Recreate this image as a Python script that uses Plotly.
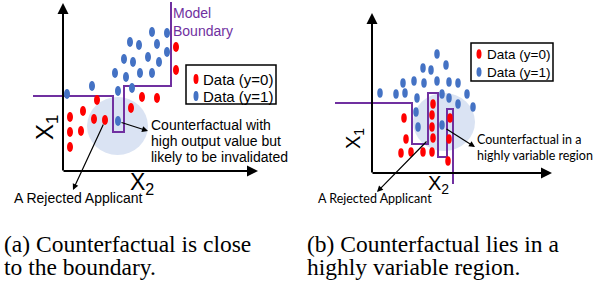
import plotly.graph_objects as go

# ---------------- Panel (a) data (figure pixel coordinates) ----------------
A_RED_X = [176, 176, 97, 142, 157, 131, 70, 83, 94, 105, 70, 81, 70]
A_RED_Y = [47, 70, 100, 97, 98, 108, 117, 111, 119, 120, 132, 131, 147]
A_BLUE_X = [152, 167, 130, 139, 157, 167, 124, 133, 148, 159, 115, 126, 140, 152, 92, 118, 132, 67]
A_BLUE_Y = [32, 33, 42, 45, 44, 52, 59, 62, 57, 62, 73, 77, 73, 73, 86, 91, 88, 94]
A_CF = (118, 121)
A_BOUND_X = [33, 113, 113, 124, 124, 171, 171]
A_BOUND_Y = [96, 96, 132, 132, 86, 86, 2]

# ---------------- Panel (b) data ----------------
B_RED_X = [433, 404, 432, 450, 432, 406, 433, 449, 401, 411, 423, 432, 448]
B_RED_Y = [104, 118, 115, 118, 127, 139, 138, 139, 153, 152, 152, 152, 161]
B_BLUE_X = [437, 423, 431, 446, 403, 414, 424, 437, 449, 458, 380, 396, 405, 417, 442, 449, 467, 458, 473, 416, 418]
B_BLUE_Y = [54, 68, 70, 65, 83, 81, 83, 81, 82, 83, 93, 94, 93, 98, 94, 98, 94, 104, 107, 112, 127]
B_CF = (442, 125)
B_BOUND_X = [335, 412, 412, 428, 428, 438, 438, 447, 447, 453, 453]
B_BOUND_Y = [103, 103, 144, 144, 93, 93, 157, 157, 109, 109, 184]

LEGEND_LABELS = ["Data (y=0)", "Data (y=1)"]
CAPTION_A = ["(a) Counterfactual is close", "to the boundary."]
CAPTION_B = ["(b) Counterfactual lies in a", "highly variable region."]
CF_TEXT_A = ["Counterfactual with", "high output value but", "likely to be invalidated"]
CF_TEXT_B = ["Counterfactual in a", "highly variable region"]

RED = "#FF0000"
BLUE = "#4472C4"
PURPLE = "#7030A0"
HALO = "#DAE3F3"
SANS = "Liberation Sans"
CAL = "Lato"
SERIF = "Liberation Serif"

fig = go.Figure()
shapes = []
annos = []


def ellipse(x, y, w, h, color, layer="above"):
    shapes.append(dict(type="circle", xref="x", yref="y", x0=x - w / 2, x1=x + w / 2,
                       y0=y - h / 2, y1=y + h / 2, fillcolor=color, line=dict(width=0),
                       layer=layer))


def text(x, y, s, size, font=SANS, color="black", xanchor="left", angle=0):
    annos.append(dict(x=x, y=y, xref="x", yref="y", text=s, showarrow=False,
                      xanchor=xanchor, yanchor="middle", textangle=angle, borderpad=0,
                      font=dict(size=size, family=font, color=color)))


def arrow(x0, y0, x1, y1, width=1.2, size=1.0):
    annos.append(dict(x=x1, y=y1, ax=x0, ay=y0, xref="x", yref="y", axref="x", ayref="y",
                      text="", showarrow=True, arrowhead=2, arrowsize=size,
                      arrowwidth=width, arrowcolor="black", standoff=0, startstandoff=0))


# halos
shapes.append(dict(type="circle", xref="x", yref="y", x0=87, x1=148, y0=97, y1=155,
                   fillcolor=HALO, line=dict(width=0), layer="below"))
shapes.append(dict(type="circle", xref="x", yref="y", x0=413, x1=475, y0=93, y1=151,
                   fillcolor=HALO, line=dict(width=0), layer="below"))

# boundaries
fig.add_trace(go.Scatter(x=A_BOUND_X, y=A_BOUND_Y, mode="lines",
                         line=dict(color=PURPLE, width=2), hoverinfo="skip"))
fig.add_trace(go.Scatter(x=B_BOUND_X, y=B_BOUND_Y, mode="lines",
                         line=dict(color=PURPLE, width=2), hoverinfo="skip"))

# dots
for x, y in zip(A_RED_X, A_RED_Y):
    ellipse(x, y, 6, 10, RED)
for x, y in zip(A_BLUE_X + [A_CF[0]], A_BLUE_Y + [A_CF[1]]):
    ellipse(x, y, 6, 10, BLUE)
for x, y in zip(B_RED_X, B_RED_Y):
    ellipse(x, y, 5.5, 9.5, RED)
for x, y in zip(B_BLUE_X + [B_CF[0]], B_BLUE_Y + [B_CF[1]]):
    ellipse(x, y, 5.5, 9.5, BLUE)

# axes arrows
arrow(63, 172, 63, 3, width=2, size=1.1)
arrow(62, 171, 258, 171, width=2, size=1.1)
arrow(372, 174, 372, 13, width=2, size=1.1)
arrow(371, 173, 552, 173, width=2, size=1.1)

# pointer arrows
arrow(120, 122, 148, 131)
arrow(104, 123, 73, 190)
arrow(445, 128, 475, 147)
arrow(428, 140, 377, 192)

# legends
shapes.append(dict(type="rect", xref="x", yref="y", x0=186, x1=276, y0=65, y1=104,
                   line=dict(color="black", width=1.5), fillcolor="white", layer="above"))
ellipse(196, 79, 5, 10, RED)
ellipse(196, 96, 5, 10, BLUE)
text(202, 79, LEGEND_LABELS[0], 15)
text(202, 96, LEGEND_LABELS[1], 15)

shapes.append(dict(type="rect", xref="x", yref="y", x0=471, x1=553, y0=43, y1=81,
                   line=dict(color="black", width=1.5), fillcolor="white", layer="above"))
ellipse(479, 54, 5, 9.5, RED)
ellipse(479, 72, 5, 9.5, BLUE)
text(486, 54, LEGEND_LABELS[0], 13.5)
text(486, 72, LEGEND_LABELS[1], 13.5)

# labels panel (a)
text(172, 13, "Model", 14, color=PURPLE)
text(172, 31, "Boundary", 14, color=PURPLE)
for s, yy in zip(CF_TEXT_A, [125, 141, 157]):
    text(150, yy, s, 14)
text(13, 198, "A Rejected Applicant", 14)
text(46, 128, "X<sub>1</sub>", 24, xanchor="center", angle=-90)
text(129, 183, "X<sub>2</sub>", 23)

# labels panel (b)
for s, yy in zip(CF_TEXT_B, [139, 155]):
    text(476, yy, s, 12.5, font=CAL)
text(317, 198, "A Rejected Applicant", 12.5, font=CAL)
text(354, 139, "X<sub>1</sub>", 20, xanchor="center", angle=-90)
text(427, 184, "X<sub>2</sub>", 20)

# captions
text(3, 244, CAPTION_A[0], 23.5, font=SERIF)
text(3, 267, CAPTION_A[1], 23.5, font=SERIF)
text(306, 244, CAPTION_B[0], 23.5, font=SERIF)
text(306, 267, CAPTION_B[1], 23.5, font=SERIF)

fig.update_layout(
    width=600, height=286, margin=dict(l=0, r=0, t=0, b=0),
    paper_bgcolor="white", plot_bgcolor="white", showlegend=False,
    xaxis=dict(range=[0, 600], visible=False, fixedrange=True),
    yaxis=dict(range=[286, 0], visible=False, fixedrange=True),
    shapes=shapes, annotations=annos,
)
fig.write_html("out.html", config={"displayModeBar": False},
               post_script="document.body.style.margin='0';")
